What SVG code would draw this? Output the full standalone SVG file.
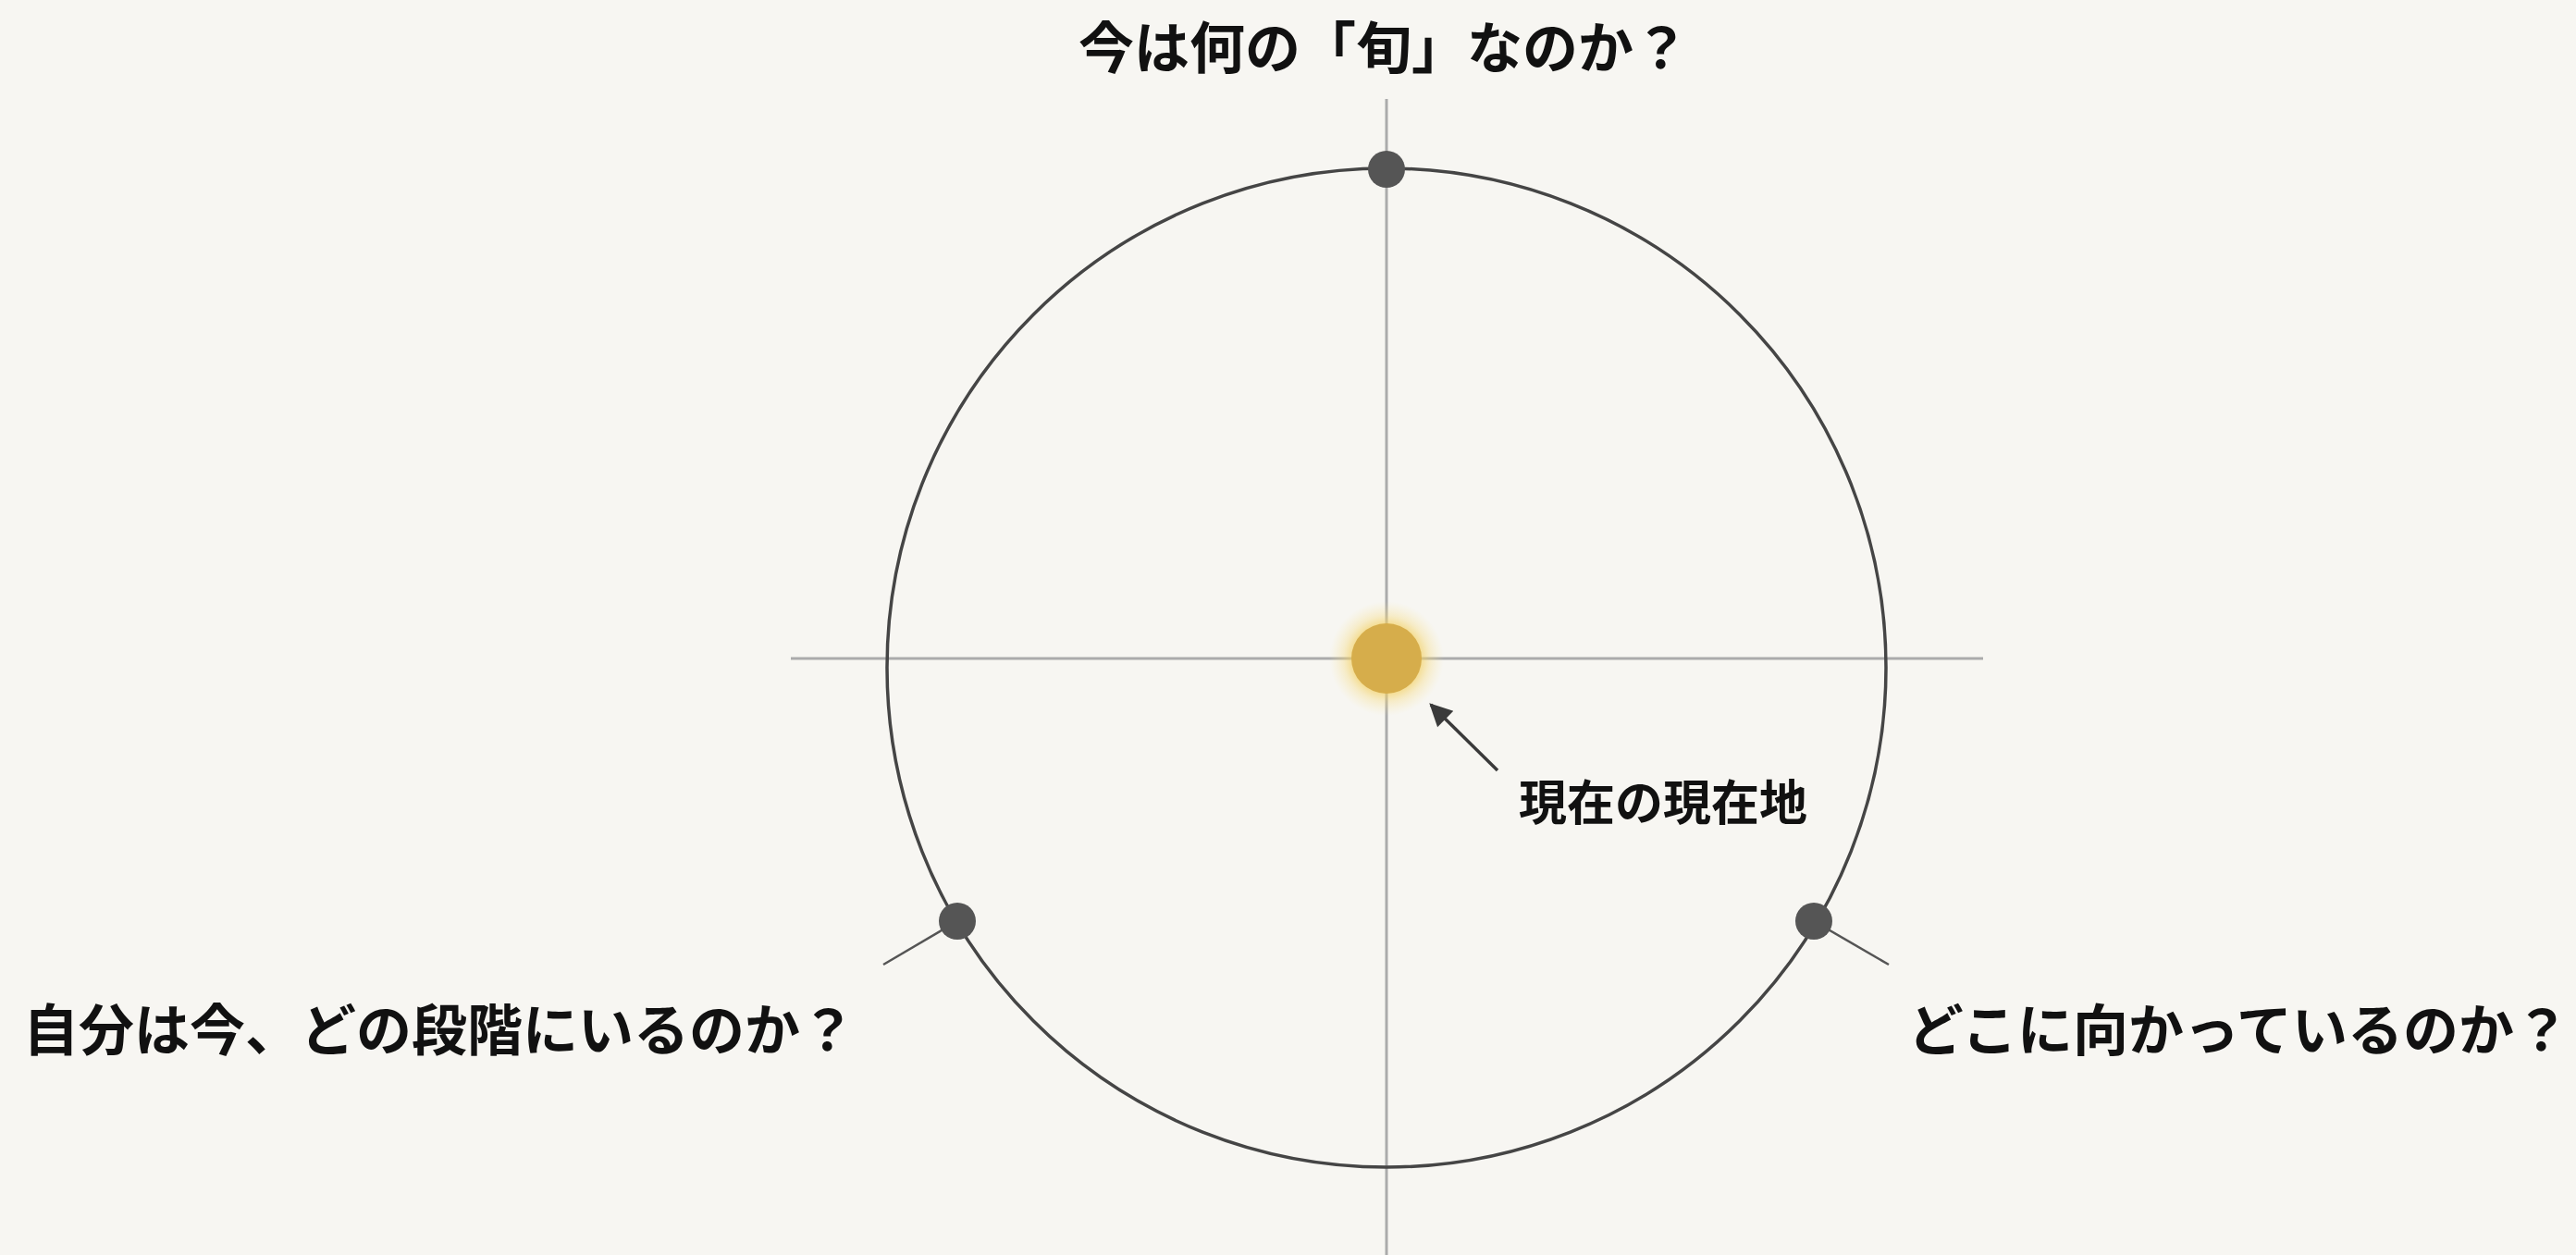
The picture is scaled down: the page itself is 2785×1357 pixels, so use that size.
<svg xmlns="http://www.w3.org/2000/svg" width="2785" height="1357" viewBox="0 0 2785 1357">
<style>
.lbl{font-family:"Liberation Sans","Noto Sans CJK JP",sans-serif;font-weight:bold;fill:#111;}
.axis{stroke:#ababab;stroke-width:3;fill:none;}
.ring{stroke:#454545;stroke-width:3.5;fill:none;}
.dot{fill:#555;}
.tick{stroke:#555;stroke-width:2.5;}
</style>
<defs>
<radialGradient id="glow" cx="0.5" cy="0.5" r="0.5">
<stop offset="0.55" stop-color="#f2cc55" stop-opacity="0.75"/>
<stop offset="0.75" stop-color="#f5d878" stop-opacity="0.35"/>
<stop offset="1" stop-color="#f8e6a0" stop-opacity="0"/>
</radialGradient>
<marker id="arr" viewBox="0 0 10 10" refX="9" refY="5" markerWidth="8" markerHeight="7" orient="auto" markerUnits="strokeWidth">
<path d="M0,0 L10,5 L0,10 z" fill="#3a3a3a"/>
</marker>
</defs>
<rect x="0" y="0" width="2785" height="1357" fill="#f7f6f2"/>
<g id="connectors">
<line class="axis" x1="1499" y1="107" x2="1499" y2="1357"/>
<line class="axis" x1="855" y1="712" x2="2144" y2="712"/>
<circle id="cycle" class="ring" cx="1499" cy="722" r="540"/>
<line class="tick" x1="1035" y1="996" x2="955" y2="1043"/>
<line class="tick" x1="1961" y1="996" x2="2042" y2="1043"/>
<line x1="1619" y1="833" x2="1547" y2="762" stroke="#3a3a3a" stroke-width="3.5" marker-end="url(#arr)"/>
</g>
<g id="node-top">
<circle class="dot" cx="1499" cy="183" r="20"/>
<text class="lbl" x="1496" y="74" font-size="60" text-anchor="middle">今は何の「旬」なのか？</text>
</g>
<g id="node-left">
<circle class="dot" cx="1035" cy="996" r="20"/>
<text class="lbl" x="25" y="1136" font-size="60">自分は今、どの段階にいるのか？</text>
</g>
<g id="node-right">
<circle class="dot" cx="1961" cy="996" r="20"/>
<text class="lbl" x="2778" y="1136" font-size="60" text-anchor="end">どこに向かっているのか？</text>
</g>
<g id="node-center">
<circle cx="1499" cy="712" r="62" fill="url(#glow)"/>
<circle cx="1499" cy="712" r="38" fill="#d6ad4b"/>
<text class="lbl" x="1642" y="887" font-size="52">現在の現在地</text>
</g>
</svg>
